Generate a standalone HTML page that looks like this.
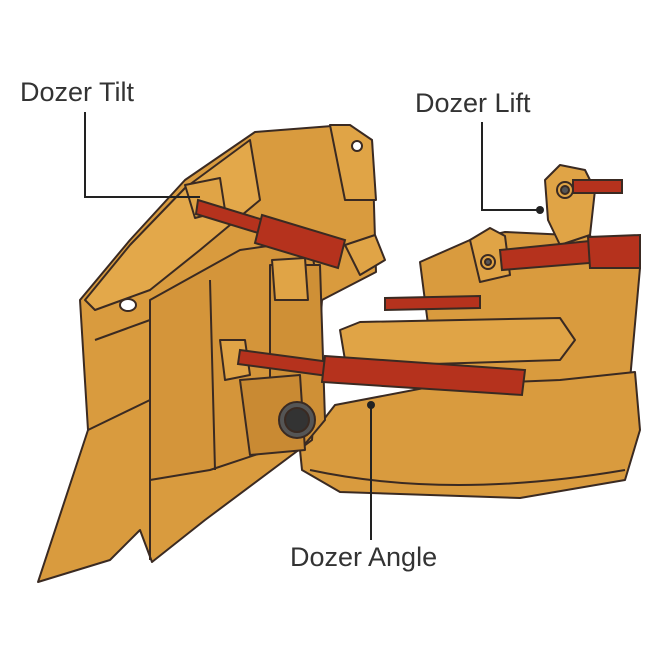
<!DOCTYPE html>
<html><head><meta charset="utf-8"><style>
html,body{margin:0;padding:0;background:#fff;}
svg{display:block}
text{font-family:"Liberation Sans",sans-serif;fill:#333;}
</style></head><body>
<svg width="666" height="666" viewBox="0 0 666 666" xmlns="http://www.w3.org/2000/svg">
<g stroke="#3a2a22" stroke-width="2" stroke-linejoin="round" fill="#d99b3e">
<!-- push arm / frame right -->
<polygon points="420,262 470,240 505,232 590,236 640,268 630,380 570,410 470,400 430,340"/>
<polygon points="300,450 335,405 440,385 560,380 635,372 640,430 625,480 520,498 340,492 302,470"/>
<path d="M310,470 Q450,500 625,470" fill="none"/>
<polygon points="340,330 360,322 560,318 575,340 560,360 400,365 345,360" fill="#e0a446"/>
<!-- blade -->
<polygon points="38,582 88,430 80,300 130,240 185,180 255,132 345,125 372,140 376,272 322,300 312,440 205,520 152,562 140,530 110,560"/>
<polygon points="85,300 130,245 185,188 250,140 260,200 200,250 150,290 95,310" fill="#e3a84a"/>
<polygon points="150,300 240,250 310,240 320,300 300,440 210,470 150,480" fill="#d4953a"/>
<path d="M88,430 L150,400 M95,340 L150,320 M150,300 L150,560 M210,280 L215,470" fill="none"/>
<polygon points="330,125 350,125 372,140 376,200 345,200" fill="#e0a446"/>
<circle cx="357" cy="146" r="5" fill="#fff"/>
<ellipse cx="128" cy="305" rx="8" ry="6" fill="#fff"/>
<!-- center hinge -->
<polygon points="270,265 320,265 325,420 300,450 270,440" fill="#cf9036"/>
<polygon points="240,380 300,375 305,450 250,455" fill="#c98a33"/>
<circle cx="297" cy="420" r="18" fill="#555"/>
<circle cx="297" cy="420" r="12" fill="#333"/>
<!-- lift bracket -->
<polygon points="545,180 560,165 585,170 595,190 590,235 560,245 548,220" fill="#e0a446"/>
<circle cx="565" cy="190" r="8" fill="#e0a446"/>
<circle cx="565" cy="190" r="4" fill="#555"/>
<polygon points="470,240 490,228 505,236 510,275 480,282" fill="#e0a446"/>
<circle cx="488" cy="262" r="7" fill="#e0a446"/>
<circle cx="488" cy="262" r="3" fill="#555"/>
<!-- tilt bracket -->
<polygon points="345,245 375,235 385,260 360,275" fill="#e0a446"/>
<polygon points="185,185 220,178 225,210 195,218" fill="#e0a446"/>
<polygon points="272,260 305,258 308,300 275,300" fill="#e0a446"/>
<polygon points="220,340 245,340 250,375 225,380" fill="#e0a446"/>
</g>
<!-- cylinders -->
<g stroke="#3a2a22" stroke-width="2" fill="#b5321d">
<polygon points="198,200 270,222 268,236 196,214"/>
<polygon points="262,215 345,240 338,268 255,243"/>
<polygon points="573,180 622,180 622,193 573,193"/>
<polygon points="500,250 600,240 602,262 502,270"/>
<polygon points="588,237 640,235 640,268 590,268"/>
<polygon points="385,298 480,296 480,308 385,310"/>
<polygon points="240,350 330,362 328,376 238,364"/>
<polygon points="325,356 525,370 522,395 322,382"/>
</g>
<!-- leader lines -->
<g stroke="#222" stroke-width="2" fill="none">
<polyline points="85,112 85,197 200,197"/>
<polyline points="482,122 482,210 540,210"/>
<line x1="371" y1="405" x2="371" y2="540"/>
</g>
<circle cx="540" cy="210" r="4" fill="#222"/>
<circle cx="371" cy="405" r="4" fill="#222"/>
<text x="20" y="101" font-size="27">Dozer Tilt</text>
<text x="415" y="112" font-size="27">Dozer Lift</text>
<text x="290" y="566" font-size="27">Dozer Angle</text>
</svg>
</body></html>
